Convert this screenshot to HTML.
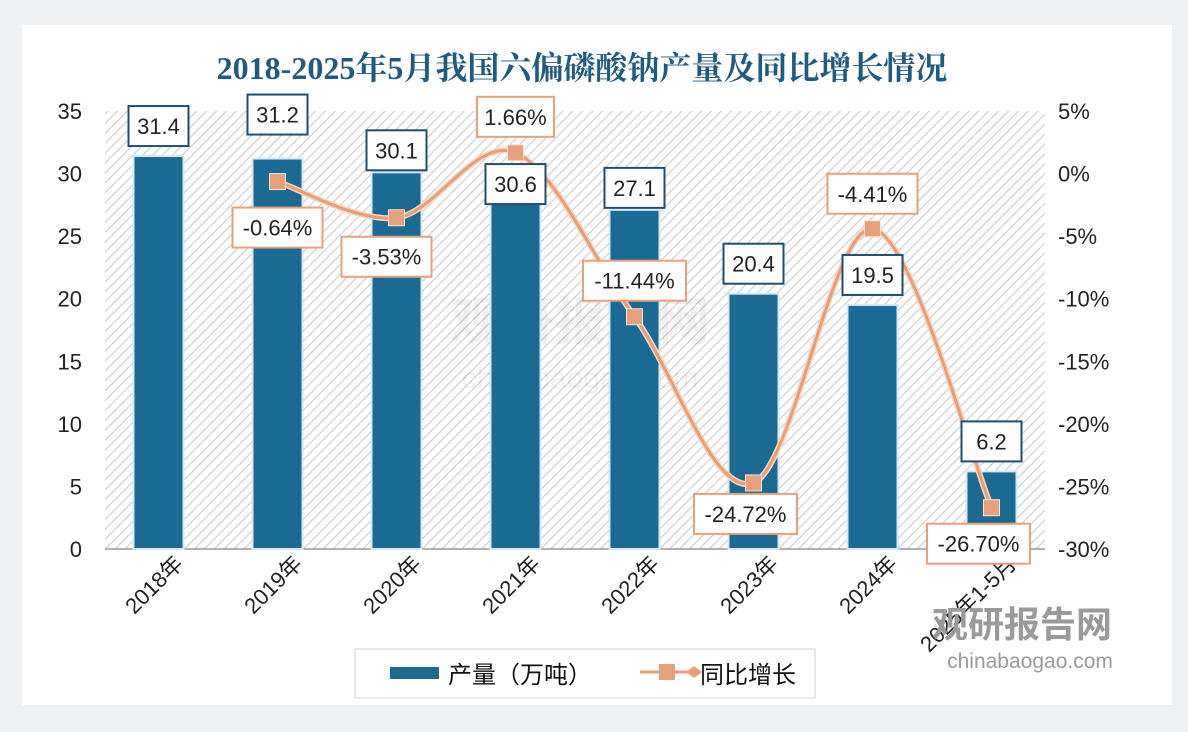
<!DOCTYPE html>
<html><head><meta charset="utf-8"><style>
body{margin:0;background:#eef0f2;}
svg{display:block;font-family:"Liberation Sans","Noto Sans CJK SC",sans-serif;}
</style></head><body>
<svg id="chart" width="1188" height="732">
<defs>
<pattern id="hatch" width="7" height="7" patternUnits="userSpaceOnUse" patternTransform="rotate(45)">
<rect width="7" height="7" fill="#ffffff"/><line x1="0" y1="0" x2="0" y2="7" stroke="#cfcfcf" stroke-width="2.4"/>
</pattern>
</defs>
<rect x="0" y="0" width="1188" height="732" fill="#eef0f2"/>
<rect x="22" y="25" width="1150" height="680" fill="#ffffff"/>
<text x="582" y="79" text-anchor="middle" font-family="'Liberation Serif','Noto Serif CJK SC',serif" font-weight="bold" font-size="32" fill="#1f5a80">2018-2025年5月我国六偏磷酸钠产量及同比增长情况</text>
<rect x="105" y="111" width="940" height="438" fill="url(#hatch)"/>
<text x="580" y="340" text-anchor="middle" font-size="52" font-weight="bold" fill="#000" opacity="0.05">观研报告网</text>
<text x="580" y="388" text-anchor="middle" font-size="30" fill="#000" opacity="0.05">chinabaogao.com</text>
<g id="g"></g>
<rect x="355" y="649" width="460" height="49" fill="#fff" stroke="#d0d0d0"/>
<rect x="390" y="667" width="49" height="12" fill="#1b6a94"/>
<text x="448" y="683" font-size="24" fill="#111">产量（万吨）</text>
<line x1="640" y1="672" x2="695" y2="672" stroke="#eb9d72" stroke-width="3"/>
<rect x="659" y="664" width="16" height="16" fill="#e8a07a"/>
<path d="M686 672 L694 666 L702 672 L694 678Z" fill="#e8a07a"/>
<text x="700" y="683" font-size="24" fill="#111">同比增长</text>
<text x="1022" y="637" text-anchor="middle" font-size="36" font-weight="bold" fill="#9a9a9a">观研报告网</text>
<text x="1030" y="668" text-anchor="middle" font-size="21" fill="#9a9a9a">chinabaogao.com</text>
</svg>
<script>
const categories=["2018年","2019年","2020年","2021年","2022年","2023年","2024年","2025年1-5月"];
const production=[31.4,31.2,30.1,30.6,27.1,20.4,19.5,6.2];
const growth=[null,-0.64,-3.53,1.66,-11.44,-24.72,-4.41,-26.70];
const leftTicks=[0,5,10,15,20,25,30,35];
const rightTicks=[5,0,-5,-10,-15,-20,-25,-30];
const barLabelDy=[-30,-44,-22,18,-22,-30,-30,-30];
const pctLabelDx=[0,0,-10,0,0,-8,0,-13];
const pctLabelDy=[0,46,39,-36,-36,31,-35,36];
const NS="http://www.w3.org/2000/svg";
const g=document.getElementById('g');
const x0=105,x1=1045,yTop=111,yBot=549;
const band=(x1-x0)/categories.length;
const xC=i=>x0+band*(i+0.5)+ (i-3.5)*1.5;
const yL=v=>yBot-(v/35)*(yBot-yTop);
const yR=v=>yBot-((v+30)/35)*(yBot-yTop);
function mk(t,a,p){const e=document.createElementNS(NS,t);for(const k in a)e.setAttribute(k,a[k]);(p||g).appendChild(e);return e;}
leftTicks.forEach(v=>{const t=mk('text',{x:82,y:yL(v)+8,'text-anchor':'end','font-size':22,fill:'#222'});t.textContent=v;

});
rightTicks.forEach(v=>{const t=mk('text',{x:1058,y:yR(v)+8,'font-size':22,fill:'#222'});t.textContent=v+'%';

});
mk('line',{x1:x0,y1:yBot,x2:x1,y2:yBot,stroke:'#999','stroke-width':1.5});
const bw=50;
production.forEach((v,i)=>{const b=mk('rect',{x:xC(i)-bw/2,y:yL(v),width:bw,height:yBot-yL(v),fill:'#1b6a94',stroke:'#d6eaf5','stroke-width':2});

});
categories.forEach((c,i)=>{const t=mk('text',{x:0,y:0,'text-anchor':'end','font-size':22,fill:'#222',transform:`translate(${xC(i)+26},${yBot+16}) rotate(-45)`});t.textContent=c;

});
const pts=[];growth.forEach((v,i)=>{if(v!==null)pts.push([xC(i),yR(v),i]);});
let d=`M${pts[0][0]},${pts[0][1]}`;
for(let k=0;k<pts.length-1;k++){const p0=pts[Math.max(k-1,0)],p1=pts[k],p2=pts[k+1],p3=pts[Math.min(k+2,pts.length-1)];
const c1=[p1[0]+(p2[0]-p0[0])/6,p1[1]+(p2[1]-p0[1])/6],c2=[p2[0]-(p3[0]-p1[0])/6,p2[1]-(p3[1]-p1[1])/6];
d+=` C${c1[0]},${c1[1]} ${c2[0]},${c2[1]} ${p2[0]},${p2[1]}`;}
mk('path',{d,fill:'none',stroke:'#f5d7c4','stroke-width':6});
const ln=mk('path',{d,fill:'none',stroke:'#eb9d72','stroke-width':3});


pts.forEach(p=>{const m=mk('rect',{x:p[0]-8,y:p[1]-8,width:16,height:16,fill:'#e8a07a',stroke:'#fbe3d6','stroke-width':1});

});
function box(cx,cy,txt,w,col){const r=mk('rect',{x:cx-w/2,y:cy-20,width:w,height:40,fill:'#fff',stroke:col,'stroke-width':2});
const t=mk('text',{x:cx,y:cy+8,'text-anchor':'middle','font-size':22,fill:'#222'});t.textContent=txt;return [r,t];}
production.forEach((v,i)=>{const [r,t]=box(xC(i),yL(v)+barLabelDy[i],v.toFixed(1),60,'#1f4e70');



});
growth.forEach((v,i)=>{if(v===null)return;const s=v.toFixed(2)+'%';const w=s.length*13+12;
const [r,t]=box(xC(i)+pctLabelDx[i],yR(v)+pctLabelDy[i],s,w,'#e8a07a');



});
</script>
</body></html>
